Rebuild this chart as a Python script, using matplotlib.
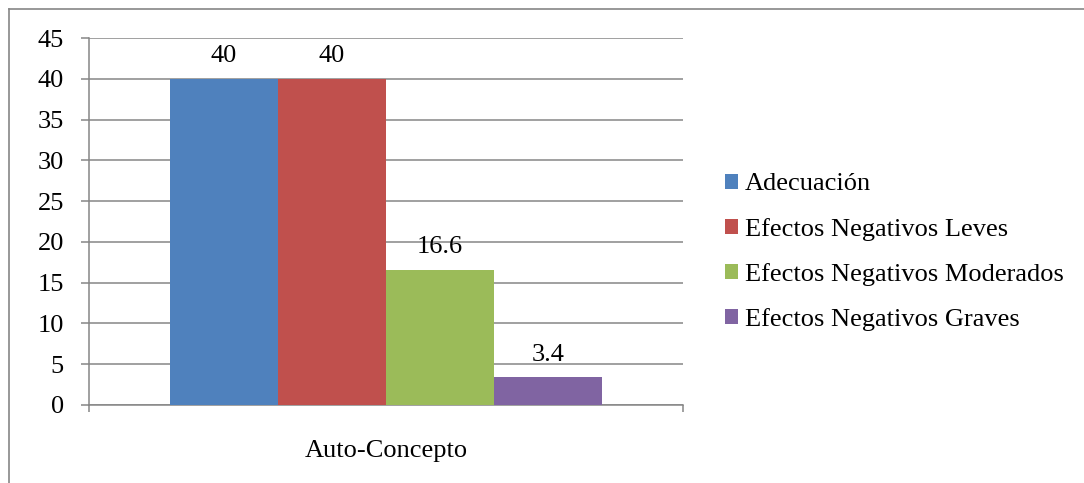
import matplotlib.pyplot as plt
from matplotlib.patches import Patch
from matplotlib.lines import Line2D

# datos
categoria = "Auto-Concepto"
series = ["Adecuación", "Efectos Negativos Leves",
          "Efectos Negativos Moderados", "Efectos Negativos Graves"]
valores = [40, 40, 16.6, 3.4]
colores = ["#4F81BD", "#C0504D", "#9BBB59", "#8064A2"]
yticks = list(range(0, 50, 5))

plt.rcParams["font.family"] = ["Liberation Serif", "DejaVu Serif"]
gris = "#868686"
fs = 19

fig = plt.figure(figsize=(10.84, 4.83), dpi=100)
ax = fig.add_axes([0.0821, 0.1615, 0.548, 0.7598])

ancho = 0.1822
for i, (v, c) in enumerate(zip(valores, colores)):
    x = (i - 1.5) * ancho
    ax.bar(x, v, width=ancho, color=c, zorder=3)
    ax.text(x, v + 1.4, f"{v:g}", ha="center", va="bottom", fontsize=fs)

ax.set_xlim(-0.5, 0.5)
ax.set_ylim(0, 45)
ax.set_yticks(yticks)
ax.tick_params(axis="y", labelsize=fs, length=6, width=1.1, color=gris, pad=12)
ax.yaxis.grid(True, color=gris, lw=1.1, zorder=0)
ax.set_axisbelow(True)

ax.set_xticks([0])
ax.set_xticklabels([categoria], fontsize=fs)
ax.tick_params(axis="x", length=0, pad=25)
ax.set_xticks([-0.5, 0.5], minor=True)
ax.tick_params(axis="x", which="minor", length=5, width=1.1, color=gris)

for s in ["top", "right"]:
    ax.spines[s].set_visible(False)
for s in ["left", "bottom"]:
    ax.spines[s].set_color(gris)
    ax.spines[s].set_linewidth(1.1)

handles = [Patch(facecolor=c, edgecolor="none") for c in colores]
fig.legend(handles, series, loc="center left", bbox_to_anchor=(0.647, 0.478),
           frameon=False, fontsize=fs, handlelength=0.5, handleheight=0.5,
           handletextpad=0.25, labelspacing=0.84)

# marco del gráfico
fig.add_artist(Line2D([9 / 1084, 9 / 1084], [0, 1 - 9 / 483], color=gris, lw=1.2))
fig.add_artist(Line2D([9 / 1084, 1], [1 - 9 / 483, 1 - 9 / 483], color=gris, lw=1.2))

fig.savefig("out.png", dpi=100)
